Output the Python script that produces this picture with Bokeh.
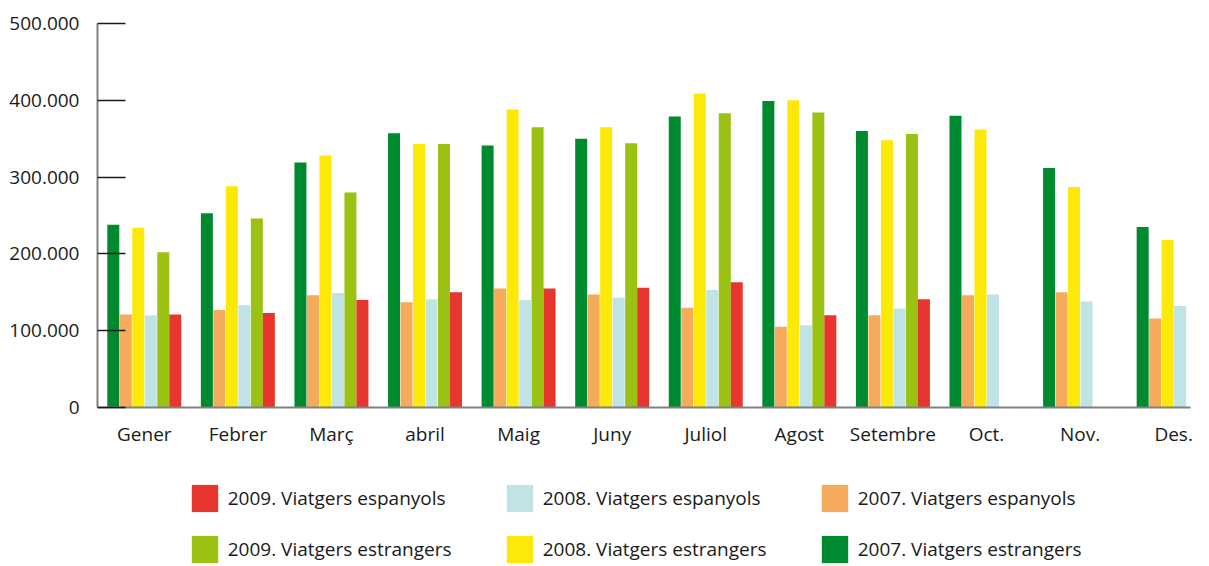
import numpy as np
from bokeh.plotting import figure
from bokeh.layouts import column
from bokeh.models import ColumnDataSource, Legend, LegendItem, FixedTicker, Range1d
from bokeh.embed import file_html
from bokeh.resources import INLINE

months = ["Gener", "Febrer", "Març", "abril", "Maig", "Juny", "Juliol",
          "Agost", "Setembre", "Oct.", "Nov.", "Des."]
est_2007 = [238000, 253000, 319000, 357000, 341000, 350000, 379000, 399000, 360000, 380000, 312000, 235000]
esp_2007 = [121000, 127000, 146000, 137000, 155000, 147000, 130000, 105000, 120000, 146000, 150000, 116000]
est_2008 = [234000, 288000, 328000, 343000, 388000, 365000, 409000, 400000, 348000, 362000, 287000, 218000]
esp_2008 = [120000, 133000, 149000, 141000, 140000, 143000, 153000, 107000, 129000, 147000, 138000, 132000]
est_2009 = [202000, 246000, 280000, 343000, 365000, 344000, 383000, 384000, 356000, None, None, None]
esp_2009 = [121000, 123000, 140000, 150000, 155000, 156000, 163000, 120000, 141000, None, None, None]

y_ticks = [0, 100000, 200000, 300000, 400000, 500000]
y_labels = ["0", "100.000", "200.000", "300.000", "400.000", "500.000"]

series = [
    ("2007. Viatgers estrangers", est_2007, "#008A30"),
    ("2007. Viatgers espanyols", esp_2007, "#F5AA5C"),
    ("2008. Viatgers estrangers", est_2008, "#FCE90A"),
    ("2008. Viatgers espanyols", esp_2008, "#C0E3E6"),
    ("2009. Viatgers estrangers", est_2009, "#9BC112"),
    ("2009. Viatgers espanyols", esp_2009, "#E6362E"),
]

FONT = "Open Sans"
FS = "19px"
px = 1 / 93.6
offsets = [-31 * px, -18.5 * px, -6 * px, 6.5 * px, 19 * px, 31 * px]
bar_w = 12 * px

p = figure(width=1201, height=460, x_range=Range1d(0, 11.68),
           y_range=Range1d(0, 500000), output_backend="svg", toolbar_location=None,
           min_border_left=97, min_border_top=23, min_border_right=11, min_border_bottom=53)
p.outline_line_color = None
p.xgrid.visible = False
p.ygrid.visible = False
p.background_fill_color = "white"

for (name, vals, col), off in zip(series, offsets):
    xs = [i + 0.5 + off for i, v in enumerate(vals) if v is not None]
    ys = [v for v in vals if v is not None]
    src = ColumnDataSource(dict(x=xs, top=ys))
    p.vbar(x="x", top="top", bottom=0, width=bar_w, source=src,
           fill_color=col, line_color=None)

# axes
p.yaxis.ticker = FixedTicker(ticks=y_ticks)
p.yaxis.major_label_overrides = {t: l for t, l in zip(y_ticks, y_labels)}
p.yaxis.minor_tick_line_color = None
p.yaxis.major_tick_in = 28
p.yaxis.major_tick_out = 0
p.yaxis.major_tick_line_color = "#1a1a1a"
p.yaxis.major_tick_line_width = 1.5
p.yaxis.axis_line_color = "#808080"
p.yaxis.axis_line_width = 2
p.yaxis.major_label_text_font = FONT
p.yaxis.major_label_text_font_size = FS
p.yaxis.major_label_text_color = "#1a1a1a"
p.yaxis.major_label_standoff = 18

p.xaxis.ticker = FixedTicker(ticks=[i + 0.5 for i in range(len(months))])
p.xaxis.major_label_overrides = {i + 0.5: m for i, m in enumerate(months)}
p.xaxis.minor_tick_line_color = None
p.xaxis.major_tick_line_color = None
p.xaxis.axis_line_color = "#808080"
p.xaxis.axis_line_width = 2
p.xaxis.major_label_text_font = FONT
p.xaxis.major_label_text_font_size = FS
p.xaxis.major_label_text_color = "#1a1a1a"
p.xaxis.major_label_standoff = 7

# legend panel (separate figure below the chart)
lf = figure(width=1201, height=106, x_range=Range1d(0, 1), y_range=Range1d(0, 1),
            x_axis_type=None, y_axis_type=None, output_backend="svg", toolbar_location=None,
            min_border_left=0, min_border_right=0, min_border_top=0, min_border_bottom=0)
lf.outline_line_color = None
lf.xgrid.visible = False
lf.ygrid.visible = False
swatch = {}
for name, _, col in series:
    # one off-screen bar per series, only used as the legend's colour key
    swatch[name] = lf.vbar(x=[-10], top=[-10], bottom=-11, width=0.1,
                           fill_color=col, line_color=None)

rows = [
    (["2009. Viatgers espanyols", "2008. Viatgers espanyols", "2007. Viatgers espanyols"], 51.5),
    (["2009. Viatgers estrangers", "2008. Viatgers estrangers", "2007. Viatgers estrangers"], 0),
]
for names, vy in rows:
    items = [LegendItem(label=n, renderers=[swatch[n]]) for n in names]
    legend = Legend(items=items, orientation="horizontal",
                    glyph_width=33, glyph_height=34, label_standoff=7,
                    label_width=250, label_height=34, spacing=25,
                    label_text_font=FONT, label_text_font_size=FS,
                    label_text_color="#1a1a1a", border_line_color=None,
                    background_fill_alpha=0, padding=0, margin=0,
                    location=(90.7, vy))
    lf.add_layout(legend, "center")

layout = column(p, lf, spacing=0)
open("out.html", "w").write(file_html(layout, INLINE))
